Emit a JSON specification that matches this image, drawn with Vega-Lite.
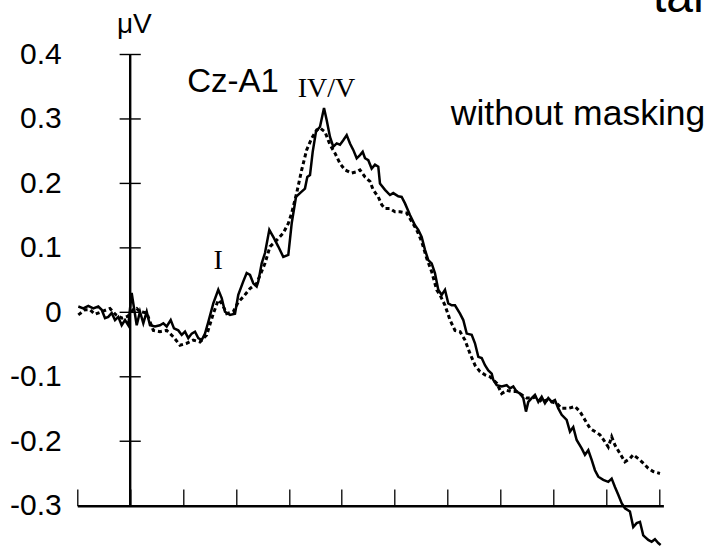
{
  "$schema": "https://vega.github.io/schema/vega-lite/v6.json",
  "width": 586.1,
  "height": 451.2,
  "autosize": {"type": "none"},
  "padding": {"left": 77.3, "top": 54.5, "right": 46.6, "bottom": 45.3},
  "background": "white",
  "config": {"view": {"stroke": null}, "font": "Liberation Sans"},
  "datasets": {
    "solid": [
      {"t":-0.981,"v":0.009},{"t":-0.887,"v":0.006},{"t":-0.792,"v":0.010},{"t":-0.698,"v":0.006},{"t":-0.603,"v":0.009},{"t":-0.539,"v":0.004},{"t":-0.476,"v":-0.009},{"t":-0.414,"v":-0.007},{"t":-0.350,"v":-0.001},{"t":-0.287,"v":-0.012},{"t":-0.225,"v":-0.007},{"t":-0.161,"v":-0.020},{"t":-0.098,"v":-0.012},{"t":-0.036,"v":-0.020},{"t":0.028,"v":0.030},{"t":0.123,"v":-0.020},{"t":0.185,"v":0.001},{"t":0.248,"v":-0.017},{"t":0.312,"v":0.001},{"t":0.374,"v":-0.020},{"t":0.469,"v":-0.022},{"t":0.563,"v":-0.020},{"t":0.626,"v":-0.017},{"t":0.690,"v":-0.022},{"t":0.766,"v":-0.012},{"t":0.828,"v":-0.025},{"t":0.909,"v":-0.028},{"t":0.974,"v":-0.035},{"t":1.036,"v":-0.030},{"t":1.098,"v":-0.040},{"t":1.163,"v":-0.033},{"t":1.225,"v":-0.030},{"t":1.287,"v":-0.040},{"t":1.352,"v":-0.043},{"t":1.414,"v":-0.033},{"t":1.476,"v":-0.015},{"t":1.571,"v":0.014},{"t":1.665,"v":0.035},{"t":1.730,"v":0.022},{"t":1.792,"v":0.001},{"t":1.887,"v":-0.004},{"t":1.981,"v":-0.002},{"t":2.043,"v":0.027},{"t":2.138,"v":0.048},{"t":2.202,"v":0.061},{"t":2.265,"v":0.058},{"t":2.327,"v":0.045},{"t":2.391,"v":0.040},{"t":2.422,"v":0.048},{"t":2.486,"v":0.076},{"t":2.548,"v":0.092},{"t":2.630,"v":0.128},{"t":2.718,"v":0.115},{"t":2.800,"v":0.102},{"t":2.894,"v":0.086},{"t":2.989,"v":0.089},{"t":3.053,"v":0.138},{"t":3.134,"v":0.179},{"t":3.210,"v":0.185},{"t":3.304,"v":0.192},{"t":3.348,"v":0.210},{"t":3.399,"v":0.213},{"t":3.450,"v":0.249},{"t":3.512,"v":0.280},{"t":3.588,"v":0.288},{"t":3.664,"v":0.317},{"t":3.715,"v":0.298},{"t":3.777,"v":0.272},{"t":3.839,"v":0.257},{"t":3.904,"v":0.262},{"t":3.966,"v":0.260},{"t":4.028,"v":0.267},{"t":4.093,"v":0.275},{"t":4.155,"v":0.262},{"t":4.217,"v":0.252},{"t":4.282,"v":0.239},{"t":4.344,"v":0.244},{"t":4.395,"v":0.249},{"t":4.439,"v":0.239},{"t":4.501,"v":0.236},{"t":4.565,"v":0.223},{"t":4.628,"v":0.229},{"t":4.690,"v":0.226},{"t":4.722,"v":0.200},{"t":4.817,"v":0.190},{"t":4.911,"v":0.182},{"t":4.973,"v":0.185},{"t":5.068,"v":0.180},{"t":5.132,"v":0.179},{"t":5.195,"v":0.169},{"t":5.289,"v":0.151},{"t":5.384,"v":0.135},{"t":5.446,"v":0.128},{"t":5.510,"v":0.117},{"t":5.573,"v":0.097},{"t":5.635,"v":0.081},{"t":5.699,"v":0.076},{"t":5.761,"v":0.061},{"t":5.824,"v":0.035},{"t":5.888,"v":0.027},{"t":5.951,"v":0.035},{"t":6.013,"v":0.014},{"t":6.078,"v":0.011},{"t":6.140,"v":0.011},{"t":6.235,"v":-0.002},{"t":6.297,"v":-0.012},{"t":6.362,"v":-0.033},{"t":6.456,"v":-0.035},{"t":6.518,"v":-0.048},{"t":6.581,"v":-0.069},{"t":6.645,"v":-0.071},{"t":6.707,"v":-0.082},{"t":6.770,"v":-0.090},{"t":6.834,"v":-0.095},{"t":6.865,"v":-0.105},{"t":6.929,"v":-0.113},{"t":7.023,"v":-0.115},{"t":7.117,"v":-0.113},{"t":7.180,"v":-0.118},{"t":7.242,"v":-0.115},{"t":7.306,"v":-0.123},{"t":7.369,"v":-0.126},{"t":7.431,"v":-0.133},{"t":7.482,"v":-0.154},{"t":7.526,"v":-0.139},{"t":7.590,"v":-0.133},{"t":7.652,"v":-0.128},{"t":7.715,"v":-0.139},{"t":7.779,"v":-0.131},{"t":7.841,"v":-0.141},{"t":7.904,"v":-0.133},{"t":7.968,"v":-0.139},{"t":8.030,"v":-0.136},{"t":8.093,"v":-0.149},{"t":8.157,"v":-0.159},{"t":8.251,"v":-0.167},{"t":8.314,"v":-0.185},{"t":8.376,"v":-0.178},{"t":8.440,"v":-0.198},{"t":8.535,"v":-0.211},{"t":8.597,"v":-0.221},{"t":8.660,"v":-0.214},{"t":8.724,"v":-0.229},{"t":8.786,"v":-0.245},{"t":8.849,"v":-0.255},{"t":8.943,"v":-0.260},{"t":9.038,"v":-0.263},{"t":9.102,"v":-0.258},{"t":9.164,"v":-0.271},{"t":9.227,"v":-0.283},{"t":9.291,"v":-0.296},{"t":9.353,"v":-0.304},{"t":9.447,"v":-0.309},{"t":9.510,"v":-0.333},{"t":9.575,"v":-0.327},{"t":9.637,"v":-0.325},{"t":9.699,"v":-0.346},{"t":9.794,"v":-0.353},{"t":9.858,"v":-0.356},{"t":9.920,"v":-0.352},{"t":9.983,"v":-0.358},{"t":10.028,"v":-0.361}
    ],
    "dashed": [
      {"t":-0.981,"v":-0.004},{"t":-0.949,"v":-0.002},{"t":-0.854,"v":0.004},{"t":-0.760,"v":0.004},{"t":-0.665,"v":-0.003},{"t":-0.539,"v":0.001},{"t":-0.382,"v":0.006},{"t":-0.268,"v":-0.004},{"t":-0.155,"v":-0.009},{"t":-0.042,"v":-0.006},{"t":0.053,"v":0.004},{"t":0.123,"v":0.006},{"t":0.185,"v":0.001},{"t":0.312,"v":-0.001},{"t":0.437,"v":-0.028},{"t":0.563,"v":-0.030},{"t":0.690,"v":-0.028},{"t":0.815,"v":-0.038},{"t":0.941,"v":-0.051},{"t":1.068,"v":-0.048},{"t":1.193,"v":-0.043},{"t":1.319,"v":-0.046},{"t":1.446,"v":-0.035},{"t":1.571,"v":-0.002},{"t":1.665,"v":0.019},{"t":1.730,"v":0.014},{"t":1.824,"v":-0.002},{"t":1.949,"v":0.001},{"t":2.043,"v":0.016},{"t":2.138,"v":0.024},{"t":2.265,"v":0.037},{"t":2.391,"v":0.045},{"t":2.548,"v":0.076},{"t":2.643,"v":0.102},{"t":2.770,"v":0.112},{"t":2.894,"v":0.123},{"t":2.989,"v":0.138},{"t":3.053,"v":0.154},{"t":3.147,"v":0.185},{"t":3.242,"v":0.221},{"t":3.336,"v":0.252},{"t":3.431,"v":0.270},{"t":3.526,"v":0.283},{"t":3.588,"v":0.286},{"t":3.682,"v":0.280},{"t":3.777,"v":0.260},{"t":3.871,"v":0.247},{"t":3.966,"v":0.231},{"t":4.060,"v":0.221},{"t":4.187,"v":0.216},{"t":4.282,"v":0.218},{"t":4.344,"v":0.221},{"t":4.439,"v":0.210},{"t":4.533,"v":0.203},{"t":4.595,"v":0.190},{"t":4.690,"v":0.179},{"t":4.755,"v":0.167},{"t":4.817,"v":0.161},{"t":4.911,"v":0.161},{"t":5.006,"v":0.156},{"t":5.100,"v":0.156},{"t":5.227,"v":0.154},{"t":5.321,"v":0.141},{"t":5.416,"v":0.128},{"t":5.510,"v":0.110},{"t":5.605,"v":0.084},{"t":5.699,"v":0.063},{"t":5.794,"v":0.035},{"t":5.856,"v":0.027},{"t":5.951,"v":0.011},{"t":6.046,"v":-0.012},{"t":6.140,"v":-0.028},{"t":6.235,"v":-0.030},{"t":6.329,"v":-0.043},{"t":6.424,"v":-0.064},{"t":6.518,"v":-0.082},{"t":6.613,"v":-0.092},{"t":6.707,"v":-0.097},{"t":6.802,"v":-0.100},{"t":6.929,"v":-0.110},{"t":7.023,"v":-0.126},{"t":7.117,"v":-0.121},{"t":7.212,"v":-0.123},{"t":7.306,"v":-0.123},{"t":7.401,"v":-0.128},{"t":7.495,"v":-0.133},{"t":7.590,"v":-0.133},{"t":7.684,"v":-0.131},{"t":7.779,"v":-0.139},{"t":7.873,"v":-0.136},{"t":7.968,"v":-0.139},{"t":8.062,"v":-0.141},{"t":8.157,"v":-0.149},{"t":8.282,"v":-0.149},{"t":8.408,"v":-0.146},{"t":8.503,"v":-0.154},{"t":8.597,"v":-0.167},{"t":8.692,"v":-0.180},{"t":8.786,"v":-0.185},{"t":8.881,"v":-0.190},{"t":8.975,"v":-0.201},{"t":9.038,"v":-0.209},{"t":9.102,"v":-0.193},{"t":9.164,"v":-0.206},{"t":9.259,"v":-0.219},{"t":9.353,"v":-0.232},{"t":9.447,"v":-0.227},{"t":9.510,"v":-0.221},{"t":9.605,"v":-0.227},{"t":9.699,"v":-0.234},{"t":9.794,"v":-0.242},{"t":9.888,"v":-0.247},{"t":10.015,"v":-0.250}
    ],
    "yticks": [{"v":0.4},{"v":0.3},{"v":0.2},{"v":0.1},{"v":0},{"v":-0.1},{"v":-0.2}]
  },
  "layer": [
    {
      "data": {"name": "dashed"},
      "mark": {"type": "line", "color": "black", "strokeWidth": 3, "strokeDash": [4, 3], "interpolate": "linear"},
      "encoding": {
        "x": {"field": "t", "type": "quantitative", "title": null,
              "scale": {"domain": [-1, 10.08], "nice": false, "zero": false},
              "axis": {"orient": "bottom", "values": [-1,0,1,2,3,4,5,6,7,8,9,10], "labels": false, "grid": false,
                       "tickSize": -16.7, "tickColor": "black", "tickWidth": 1.3, "domainColor": "black", "domainWidth": 2.4, "title": null}},
        "y": {"field": "v", "type": "quantitative", "title": null,
              "scale": {"domain": [-0.3, 0.4], "nice": false, "zero": false},
              "axis": {"values": [-0.3,-0.2,-0.1,0,0.1,0.2,0.3,0.4], "domain": false, "ticks": false, "grid": false,
                       "labelFont": "Liberation Sans", "labelFontSize": 30, "labelColor": "black", "labelPadding": 16,
                       "format": ".1~f", "labelExpr": "replace(datum.label, '−', '-')", "title": null}}
      }
    },
    {
      "data": {"name": "solid"},
      "mark": {"type": "line", "color": "black", "strokeWidth": 2.5, "interpolate": "linear"},
      "encoding": {
        "x": {"field": "t", "type": "quantitative", "title": null},
        "y": {"field": "v", "type": "quantitative", "title": null}
      }
    },
    {
      "data": {"values": [{}]},
      "mark": {"type": "rule", "color": "black", "strokeWidth": 2.4},
      "encoding": {"x": {"datum": 0}, "y": {"datum": -0.3}, "y2": {"datum": 0.4}}
    },
    {
      "data": {"name": "yticks"},
      "mark": {"type": "rule", "color": "black", "strokeWidth": 1.4},
      "encoding": {"y": {"field": "v", "type": "quantitative", "title": null}, "x": {"datum": -0.2}, "x2": {"datum": 0.2}}
    },
    {
      "data": {"values": [{}]},
      "mark": {"type": "text", "text": "μV", "font": "Liberation Sans", "fontSize": 28, "align": "left", "baseline": "alphabetic", "color": "black"},
      "encoding": {"x": {"datum": -0.25}, "y": {"datum": 0.4328}}
    },
    {
      "data": {"values": [{}]},
      "mark": {"type": "text", "text": "Cz-A1", "font": "Liberation Sans", "fontSize": 33, "align": "left", "baseline": "alphabetic", "color": "black"},
      "encoding": {"x": {"datum": 1.079}, "y": {"datum": 0.3422}}
    },
    {
      "data": {"values": [{}]},
      "mark": {"type": "text", "text": "IV/V", "font": "Liberation Serif", "fontSize": 28, "align": "left", "baseline": "alphabetic", "color": "black"},
      "encoding": {"x": {"datum": 3.166}, "y": {"datum": 0.3345}}
    },
    {
      "data": {"values": [{}]},
      "mark": {"type": "text", "text": "I", "font": "Liberation Serif", "fontSize": 28, "align": "center", "baseline": "alphabetic", "color": "black"},
      "encoding": {"x": {"datum": 1.665}, "y": {"datum": 0.0672}}
    },
    {
      "data": {"values": [{}]},
      "mark": {"type": "text", "text": "without masking", "font": "Liberation Sans", "fontSize": 35.5, "align": "left", "baseline": "alphabetic", "color": "black"},
      "encoding": {"x": {"datum": 6.06}, "y": {"datum": 0.2906}}
    },
    {
      "data": {"values": [{}]},
      "mark": {"type": "text", "text": "tar", "font": "Liberation Sans", "fontSize": 48, "align": "left", "baseline": "alphabetic", "color": "black"},
      "encoding": {"x": {"datum": 9.883}, "y": {"datum": 0.4659}}
    }
  ]
}
